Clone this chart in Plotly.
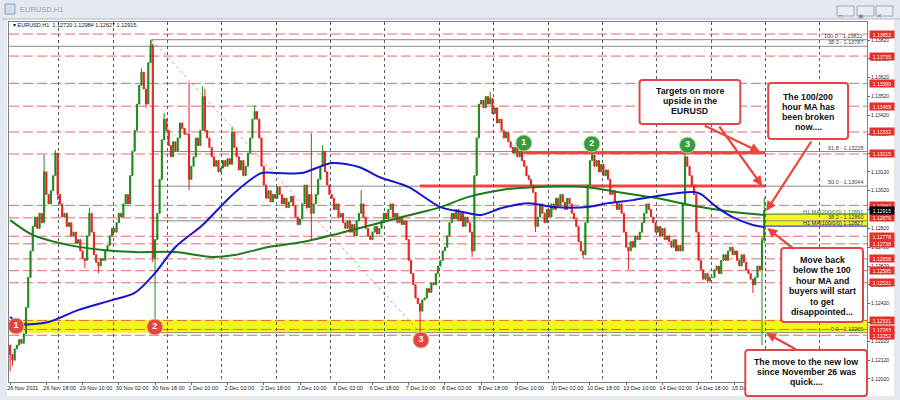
import plotly.graph_objects as go

# ---------------- data (prices in points above 1.10000) ----------------
OPEN_FIRST_PTS = 2200
CLOSE_PTS = [
    2150, 2120, 2180, 2200, 2230, 2210, 2260, 2400, 2560, 2700,
    2830, 2880, 2820, 2900, 2850, 3120, 3000, 2950, 3020, 3100,
    3220, 3000, 2950, 2880, 2900, 2830, 2850, 2780, 2800, 2740,
    2760, 2700, 2660, 2650, 2780, 2900, 2800, 2680, 2640, 2620,
    2660, 2650, 2700, 2730, 2780, 2820, 2800, 2850, 2900, 2880,
    2950, 3000, 2950, 3100, 3230, 3340, 3480, 3580, 3650, 3560,
    3480, 3700, 3790, 2662, 2760, 2900, 3080, 3290, 3400, 3340,
    3260, 3200, 3280, 3230, 3300, 3380, 3350, 3320, 3320, 3080,
    3150, 3200, 3300, 3260, 3340, 3520, 3340, 3300, 3250, 3200,
    3150, 3180, 3120, 3140, 3180, 3150, 3190, 3160, 3330, 3250,
    3200, 3130, 3180, 3100, 3150, 3220, 3300, 3400, 3440, 3400,
    3300, 3150, 3050, 2980, 3020, 2960, 3000, 2980, 3040, 3000,
    2950, 2980, 2930, 2960, 2990, 2940, 2880, 2840, 2870, 2950,
    3050, 2930, 3000, 2900, 2950, 3000, 3080, 3150, 3230, 3120,
    3050, 3000, 2980, 2920, 2950, 2880, 2900, 2850, 2820, 2860,
    2800, 2840, 2780, 2860, 2900, 2950, 2880, 2820, 2780, 2760,
    2800, 2830, 2790, 2820, 2860, 2900, 2870, 2920, 2950, 2880,
    2900, 2850, 2880, 2840, 2860, 2760, 2650, 2580, 2520, 2450,
    2420, 2380, 2440, 2450, 2500, 2480, 2530, 2520, 2580, 2620,
    2650, 2700, 2720, 2780, 2850, 2900, 2870, 2920, 2860, 2900,
    2830, 2880, 2850, 2800, 2700, 3100, 3300, 3480, 3500, 3460,
    3520, 3480, 3510, 3430, 3460, 3380, 3400, 3340, 3300, 3330,
    3280, 3250, 3220, 3250, 3200, 3230, 3180, 3150, 3100, 3080,
    3050, 3010, 2830, 2880, 2950, 2900, 2850, 2920, 2880, 2950,
    2920, 2980, 2940, 3000, 2960, 2920, 2980, 2950, 2900, 2870,
    2830, 2750, 2700, 2680, 2850, 3050, 3180, 3210, 3150, 3180,
    3120, 3160, 3100, 3130, 3080, 3000, 3020, 2960, 2920, 2950,
    2900, 2800, 2720, 2700, 2750, 2720, 2780, 2760, 2800, 2850,
    2900, 2950, 2920, 2880, 2850, 2800, 2830, 2780, 2820, 2760,
    2780, 2750, 2720, 2760, 2700, 2730, 2700, 2950, 3200, 3150,
    3100, 3050, 3000, 2800, 2650, 2600, 2550, 2580, 2540, 2560,
    2560, 2600, 2620, 2580, 2650, 2680, 2650, 2700, 2720, 2680,
    2700, 2650, 2620, 2680, 2640, 2600, 2580, 2550, 2520, 2560,
    2620, 2600, 2760, 2915,
]
WICK_HIGH_PTS = {15: 3210, 20: 3236, 35: 2930, 58: 3670, 62: 3822, 63: 3800,
                 68: 3432, 79: 3597, 85: 3575, 86: 3560, 98: 3360, 108: 3475,
                 133: 3326, 138: 3262, 155: 3024, 212: 3545, 257: 3225,
                 298: 3236, 332: 2780, 333: 2985}
WICK_LOW_PTS = {0: 2060, 1: 2090, 21: 2970, 33: 2610, 39: 2583, 60: 3460,
                63: 2640, 64: 2340, 79: 3024, 86: 3330, 133: 2760, 181: 2266,
                204: 2668, 232: 2800, 253: 2660, 273: 2600, 308: 2530,
                328: 2477, 332: 2200, 333: 2740}

MA100_BARS = [0, 5, 17, 30, 45, 55, 64, 73, 85, 99, 111, 118, 129, 142, 154,
              163, 176, 190, 200, 208, 217, 229, 240, 255, 264, 275, 283, 295,
              302, 305, 312, 319, 328, 333]
MA100_PTS = [2349, 2312, 2323, 2386, 2439, 2477, 2583, 2721, 2838, 3008, 3114,
             3114, 3114, 3167, 3146, 3093, 3039, 2933, 2907, 2891, 2928, 2954,
             2933, 2933, 2954, 2970, 2986, 3008, 3013, 3002, 2933, 2880, 2838,
             2827]
MA200_BARS = [0, 10, 26, 41, 55, 73, 89, 99, 114, 129, 151, 173, 190, 202,
              217, 231, 255, 268, 283, 305, 319, 333]
MA200_PTS = [2864, 2785, 2731, 2705, 2694, 2694, 2668, 2678, 2721, 2747, 2811,
             2880, 2933, 2986, 3024, 3039, 3039, 3013, 2986, 2933, 2907, 2891]

LEVEL_PRICES = [1.13852, 1.13735, 1.13590, 1.13469, 1.13332, 1.13215, 1.12942,
                1.12876, 1.12778, 1.12738, 1.12658, 1.12595, 1.12531, 1.12331,
                1.12283, 1.12252]
CURRENT_PRICE = 1.12915

FIB_NAMES = ["100.0", "61.8", "50.0", "38.2", "0.0"]
FIB_PRICES = [1.13822, 1.13228, 1.13044, 1.12860, 1.12266]
FIB_HIGH_BAR, FIB_LOW_BAR = 62.5, 181
FIB2_NAME, FIB2_PRICE = "38.2", 1.13787

THICK_PRICES = [1.13222, 1.13045]
THICK_START_BARS = [226.5, 181]
THICK_END_BAR = 333.5

SUPPORT_BAND = [1.12266, 1.12335]
MA_BAND = [1.12832, 1.12896]
MA_BAND_START = 332.5

RED_MARK_BARS = [2.6, 63.9, 181.4]
RED_MARK_PRICES = [1.12301, 1.12296, 1.12227]
RED_MARK_TEXT = ["1", "2", "3"]
GREEN_MARK_BARS = [226.8, 256.8, 299.1]
GREEN_MARK_PRICES = [1.13273, 1.13268, 1.13262]
GREEN_MARK_TEXT = ["1", "2", "3"]

TICK_BARS = [0, 16, 32, 48, 64, 80, 96, 112, 128, 144, 160, 176, 192, 208, 224,
             240, 256, 272, 288, 304, 320]
TICK_TEXT = ["26 Nov 2021", "26 Nov 18:00", "29 Nov 10:00", "30 Nov 02:00",
             "30 Nov 18:00", "1 Dec 10:00", "2 Dec 02:00", "2 Dec 18:00",
             "3 Dec 10:00", "6 Dec 02:00", "6 Dec 18:00", "7 Dec 10:00",
             "8 Dec 02:00", "8 Dec 18:00", "9 Dec 10:00", "10 Dec 02:00",
             "10 Dec 18:00", "13 Dec 10:00", "14 Dec 02:00", "14 Dec 18:00",
             "15 Dec 10:00"]

# ---------------- geometry ----------------
W, H = 900, 400
ML, MR, MT, MB = 7, 33, 22, 18
PW, PH = W - ML - MR, H - MT - MB
BAR_PX = 2.27
X0 = -0.5
X1 = X0 + PW / BAR_PX
Y0, Y1 = 1.12004, 1.13916


def px(x, y):
    return (x - ML) / PW, (H - MB - y) / PH


def P(pts):
    return round(1.1 + pts / 1e5, 5)


N = len(CLOSE_PTS)
assert N == 334
bars = list(range(N))
opens_pts = [OPEN_FIRST_PTS] + CLOSE_PTS[:-1]
highs, lows = [], []
for i in range(N):
    o, c = opens_pts[i], CLOSE_PTS[i]
    highs.append(P(max(o, c, WICK_HIGH_PTS.get(i, 0))))
    lows.append(P(min(o, c, WICK_LOW_PTS.get(i, 99999))))
opens = [P(v) for v in opens_pts]
closes = [P(v) for v in CLOSE_PTS]

fig = go.Figure()
fig.add_trace(go.Candlestick(
    x=bars, open=opens, high=highs, low=lows, close=closes,
    increasing=dict(line=dict(color="#1f8a1f", width=1), fillcolor="#1f8a1f"),
    decreasing=dict(line=dict(color="#e82020", width=1), fillcolor="#e82020"),
    whiskerwidth=0, hoverinfo="skip", showlegend=False))
fig.add_trace(go.Scatter(
    x=MA200_BARS, y=[P(v) for v in MA200_PTS], mode="lines",
    line=dict(color="#1b7a1b", width=2, shape="spline", smoothing=0.8),
    hoverinfo="skip", showlegend=False))
fig.add_trace(go.Scatter(
    x=MA100_BARS, y=[P(v) for v in MA100_PTS], mode="lines",
    line=dict(color="#1717cc", width=2, shape="spline", smoothing=0.8),
    hoverinfo="skip", showlegend=False))
fig.add_trace(go.Scatter(
    x=RED_MARK_BARS, y=RED_MARK_PRICES, mode="markers+text",
    text=RED_MARK_TEXT, textposition="middle center",
    textfont=dict(color="white", size=9, weight="bold", family="Liberation Sans"),
    marker=dict(size=16, color="#e5453b", line=dict(color="#f3b0a8", width=1)),
    hoverinfo="skip", showlegend=False))
fig.add_trace(go.Scatter(
    x=GREEN_MARK_BARS, y=GREEN_MARK_PRICES, mode="markers+text",
    text=GREEN_MARK_TEXT, textposition="middle center",
    textfont=dict(color="white", size=9, weight="bold", family="Liberation Sans"),
    marker=dict(size=16, color="#3b9b3b", line=dict(color="#a8d8a8", width=1)),
    hoverinfo="skip", showlegend=False))

shapes = []
# window chrome
wx0, wy0 = px(5, 19)
wx1, wy1 = px(894, 396)
shapes.append(dict(type="rect", xref="paper", yref="paper", x0=wx0, y0=wy1,
                   x1=wx1, y1=wy0, fillcolor="white", line=dict(width=0),
                   layer="below"))
lx0, ly = px(0, 19)
lx1, _ = px(900, 19)
shapes.append(dict(type="line", xref="paper", yref="paper", x0=lx0, x1=lx1,
                   y0=ly, y1=ly, line=dict(color="#aeb9c6", width=1),
                   layer="below"))
ix0, iy0 = px(3, 4)
ix1, iy1 = px(13, 14)
shapes.append(dict(type="rect", xref="paper", yref="paper", x0=ix0, y0=iy1,
                   x1=ix1, y1=iy0, fillcolor="#d3deeb",
                   line=dict(color="#8ea2bb", width=1), layer="below"))
for bx in (837, 857, 876):
    a0, b0 = px(bx, 6)
    a1, b1 = px(bx + 17, 16)
    shapes.append(dict(type="rect", xref="paper", yref="paper", x0=a0, y0=b1,
                       x1=a1, y1=b0, fillcolor="#e8edf3",
                       line=dict(color="#9ea9b6", width=1), layer="below"))

# support band (yellow) and MA band
shapes.append(dict(type="rect", xref="paper", yref="y", x0=0, x1=1,
                   y0=SUPPORT_BAND[0], y1=SUPPORT_BAND[1],
                   fillcolor="#f6f61a", line=dict(width=0), layer="below"))
shapes.append(dict(type="rect", xref="x", yref="y", x0=MA_BAND_START, x1=X1,
                   y0=MA_BAND[0], y1=MA_BAND[1],
                   fillcolor="#f6f61a", line=dict(width=0), layer="below"))
shapes.append(dict(type="line", xref="x", yref="y", x0=MA_BAND_START, x1=X1,
                   y0=MA_BAND[1], y1=MA_BAND[1],
                   line=dict(color="#3d6b3d", width=1), layer="below"))
shapes.append(dict(type="line", xref="x", yref="y", x0=MA_BAND_START, x1=X1,
                   y0=MA_BAND[0], y1=MA_BAND[0],
                   line=dict(color="#1717cc", width=1), layer="below"))
# fib lines
shapes.append(dict(type="line", xref="paper", yref="y", x0=0, x1=1,
                   y0=FIB2_PRICE, y1=FIB2_PRICE,
                   line=dict(color="#8a8a8a", width=1), layer="below"))
for fp in FIB_PRICES:
    shapes.append(dict(type="line", xref="x", yref="y", x0=FIB_HIGH_BAR, x1=X1,
                       y0=fp, y1=fp, line=dict(color="#8a8a8a", width=1),
                       layer="below"))
shapes.append(dict(type="line", xref="x", yref="y", x0=FIB_HIGH_BAR,
                   x1=FIB_HIGH_BAR, y0=FIB2_PRICE, y1=FIB_PRICES[0],
                   line=dict(color="#8a8a8a", width=1), layer="below"))
shapes.append(dict(type="line", xref="x", yref="y", x0=FIB_HIGH_BAR,
                   x1=FIB_LOW_BAR, y0=FIB_PRICES[0], y1=FIB_PRICES[-1],
                   line=dict(color="rgba(215,110,110,0.75)", width=1, dash="dot"),
                   layer="below"))
# dashed red levels
for lp in LEVEL_PRICES:
    shapes.append(dict(type="line", xref="paper", yref="y", x0=0, x1=1,
                       y0=lp, y1=lp,
                       line=dict(color="rgba(228,78,78,0.85)", width=1,
                                 dash="10px,4px"), layer="below"))
# thick red resistance lines
for tp, ts in zip(THICK_PRICES, THICK_START_BARS):
    shapes.append(dict(type="line", xref="x", yref="y", x0=ts, x1=THICK_END_BAR,
                       y0=tp, y1=tp, line=dict(color="#f04545", width=3),
                       layer="below"))


def rrect(x0, y0, x1, y1, r=3):
    def p(x, y):
        a, b = px(x, y)
        return f"{a:.5f},{b:.5f}"
    d = (f"M{p(x0 + r, y0)} L{p(x1 - r, y0)} Q{p(x1, y0)} {p(x1, y0 + r)} "
         f"L{p(x1, y1 - r)} Q{p(x1, y1)} {p(x1 - r, y1)} L{p(x0 + r, y1)} "
         f"Q{p(x0, y1)} {p(x0, y1 - r)} L{p(x0, y0 + r)} Q{p(x0, y0)} {p(x0 + r, y0)} Z")
    return dict(type="path", xref="paper", yref="paper", path=d,
                fillcolor="white", line=dict(color="#e04848", width=2),
                layer="above")


BOXES = [
    ((639, 80, 740, 124), ["Targets on more", "upside in the", "EURUSD"], 91, 10),
    ((768, 83, 848, 139), ["The 100/200", "hour MA has", "been broken", "now...."], 97, 10),
    ((781, 248, 863, 322), ["Move back", "below the 100", "hour MA and",
                            "buyers will start", "to get", "disappointed..."], 260, 10.4),
    ((745, 350, 867, 396), ["The move to the new low", "since November 26 was",
                            "quick...."], 362, 10),
]
annotations = []
for (bx0, by0, bx1, by1), lines, fy, step in BOXES:
    shapes.append(rrect(bx0, by0, bx1, by1))
    cx = (bx0 + bx1) / 2
    for k, t in enumerate(lines):
        ax_, ay_ = px(cx, fy + k * step)
        annotations.append(dict(xref="paper", yref="paper", x=ax_, y=ay_,
                                text=f"<b>{t}</b>", showarrow=False,
                                xanchor="center", yanchor="middle",
                                font=dict(size=8.8, color="#111",
                                          family="Liberation Sans, Arial")))

# arrows: tail(px) -> head(px)
ARROWS = [((703, 125), (760, 152)), ((718, 125), (762, 186)),
          ((812, 140), (766, 211)), ((795, 250), (767, 228)),
          ((797, 350), (766, 333))]
for (tx, ty), (hx, hy) in ARROWS:
    a, b = px(hx, hy)
    annotations.append(dict(xref="paper", yref="paper", x=a, y=b, ax=tx - hx,
                            ay=ty - hy, text="", showarrow=True, arrowhead=2,
                            arrowsize=0.9, arrowwidth=2.2, arrowcolor="#e8453c",
                            standoff=0))

# right-axis price labels
for lp in LEVEL_PRICES:
    annotations.append(dict(xref="paper", yref="y", x=1, y=lp, xanchor="left",
                            xshift=2, text=f"{lp:.5f}", showarrow=False,
                            bgcolor="#e62e2a", width=23, height=6, borderpad=0.5,
                            font=dict(size=5, color="white")))
annotations.append(dict(xref="paper", yref="y", x=1, y=CURRENT_PRICE,
                        xanchor="left", xshift=2, text=f"{CURRENT_PRICE:.5f}",
                        showarrow=False, bgcolor="#000000", width=23, height=6,
                        borderpad=0.5, font=dict(size=5, color="white")))
# fib texts
for name, fp in list(zip(FIB_NAMES, FIB_PRICES)) + [(FIB2_NAME, FIB2_PRICE)]:
    annotations.append(dict(xref="paper", yref="y", x=1, y=fp, xanchor="right",
                            yanchor="bottom", xshift=-2, yshift=-1,
                            text=f"{name} - {fp:.5f}", showarrow=False,
                            font=dict(size=5.5, color="#444")))
annotations.append(dict(xref="paper", yref="y", x=1, y=1.12908, xanchor="right",
                        xshift=-2, text=f"H1 MA(200/0/0) {P(MA200_PTS[-1]):.5f}",
                        showarrow=False, font=dict(size=5.5, color="#2f7a2f")))
annotations.append(dict(xref="paper", yref="y", x=1, y=1.12847, xanchor="right",
                        xshift=-2, text=f"H1 MA(100/0/0) {P(MA100_PTS[-1]):.5f}",
                        showarrow=False, font=dict(size=5.5, color="#1a1a8a")))

# chrome texts
a, b = px(16, 10)
annotations.append(dict(xref="paper", yref="paper", x=a, y=b, xanchor="left",
                        yanchor="middle", text="EURUSD,H1", showarrow=False,
                        font=dict(size=7.5, color="#9aa6b3")))
a, b = px(9, 25)
annotations.append(dict(xref="paper", yref="paper", x=a, y=b, xanchor="left",
                        yanchor="middle",
                        text="▾ EURUSD,H1  1.12720 1.12984 1.12627 1.12915",
                        showarrow=False, font=dict(size=5.5, color="#111")))
for bx, sym in ((837, "▭"), (857, "▣"), (876, "✕")):
    a, b = px(bx + 8.5, 11)
    annotations.append(dict(xref="paper", yref="paper", x=a, y=b,
                            text=sym, showarrow=False,
                            font=dict(size=6, color="#7d8894")))

fig.update_layout(
    width=W, height=H,
    margin=dict(l=ML, r=MR, t=MT, b=MB, pad=0),
    paper_bgcolor="#e4e9f0", plot_bgcolor="white", showlegend=False,
    hovermode=False,
    font=dict(family="Liberation Sans, Arial, sans-serif", size=6, color="#222"),
    xaxis=dict(range=[X0, X1], rangeslider=dict(visible=False),
               tickmode="array", tickvals=TICK_BARS, ticktext=TICK_TEXT,
               tickfont=dict(size=5.5, color="#222"), tickangle=0,
               ticks="outside", ticklen=2, tickcolor="#666",
               ticklabelposition="outside right", ticklabelshift=-4,
               showline=True, linecolor="#808080", linewidth=1, mirror=True,
               showgrid=False, zeroline=False,
               minor=dict(tick0=21.5, dtick=24, showgrid=True,
                          gridcolor="#5a5a5a", griddash="dot", gridwidth=1,
                          ticks="")),
    yaxis=dict(range=[Y0, Y1], side="right", tickmode="linear", tick0=1.1202,
               dtick=0.001, tickformat=".5f",
               tickfont=dict(size=5, color="#222"), ticks="outside",
               ticklen=2, tickcolor="#666", showline=True, linecolor="#808080",
               linewidth=1, mirror=True, showgrid=False, zeroline=False),
    shapes=shapes, annotations=annotations,
)
fig.write_html("out.html", config={"displayModeBar": False},
               post_script="document.body.style.margin='0';"
                           "document.body.style.overflow='hidden';")
